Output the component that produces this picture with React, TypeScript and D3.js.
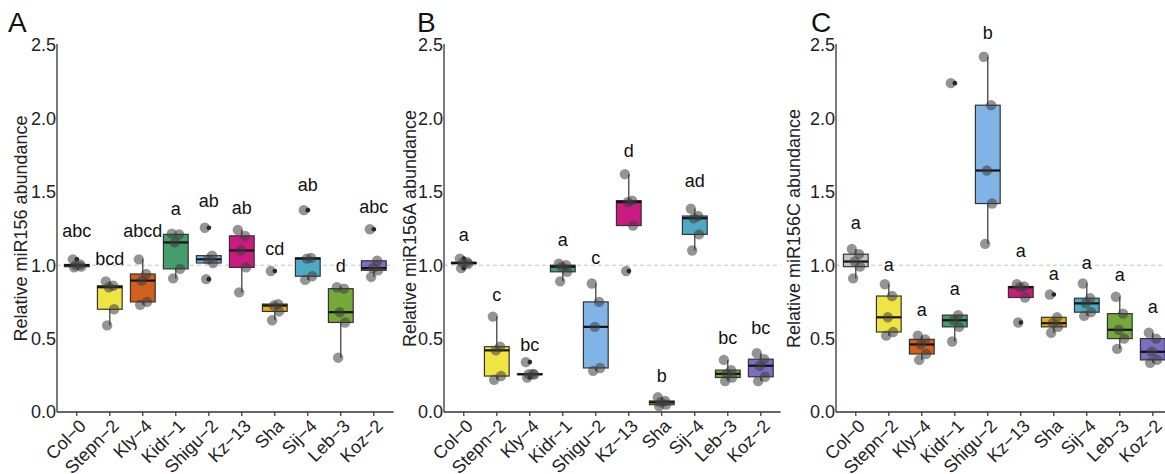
import React from "react";
import * as d3 from "d3";

// Accessions in plotting order
const genotypes = ["Col-0", "Stepn-2", "Kly-4", "Kidr-1", "Shigu-2", "Kz-13", "Sha", "Sij-4", "Leb-3", "Koz-2"];
const tickLabels = ["Col−0", "Stepn−2", "Kly−4", "Kidr−1", "Shigu−2", "Kz−13", "Sha", "Sij−4", "Leb−3", "Koz−2"];
const genotypeColors = ["#c4c4c4", "#f0e443", "#d0601c", "#469d6c", "#80b4e6", "#cc1b80", "#e3ad12", "#4eaac2", "#76a83a", "#7e6dc0"];

const yTicks = [0, 0.5, 1.0, 1.5, 2.0, 2.5];

// Relative abundance, five replicates per accession
const miR156 = [
  [1.04, 1.005, 1.0, 0.99, 0.985],
  [0.89, 0.86, 0.85, 0.70, 0.59],
  [1.04, 0.94, 0.895, 0.75, 0.73],
  [1.215, 1.21, 1.155, 0.975, 0.91],
  [1.255, 1.065, 1.04, 1.015, 0.905],
  [1.24, 1.20, 1.10, 0.985, 0.815],
  [0.96, 0.735, 0.725, 0.685, 0.625],
  [1.375, 1.05, 1.045, 0.925, 0.90],
  [0.85, 0.84, 0.68, 0.61, 0.37],
  [1.245, 1.03, 0.98, 0.965, 0.92],
];
const miR156A = [
  [1.045, 1.02, 1.015, 1.01, 0.98],
  [0.65, 0.445, 0.42, 0.245, 0.22],
  [0.34, 0.26, 0.257, 0.255, 0.235],
  [1.01, 1.0, 0.99, 0.955, 0.89],
  [0.875, 0.75, 0.58, 0.30, 0.28],
  [1.62, 1.44, 1.43, 1.27, 0.96],
  [0.10, 0.075, 0.066, 0.05, 0.04],
  [1.385, 1.335, 1.32, 1.21, 1.10],
  [0.355, 0.285, 0.26, 0.235, 0.21],
  [0.40, 0.36, 0.315, 0.24, 0.21],
];
const miR156C = [
  [1.11, 1.075, 1.025, 0.99, 0.91],
  [0.87, 0.79, 0.645, 0.545, 0.52],
  [0.52, 0.495, 0.46, 0.395, 0.355],
  [2.24, 0.66, 0.625, 0.58, 0.48],
  [2.42, 2.09, 1.645, 1.42, 1.145],
  [0.87, 0.855, 0.85, 0.78, 0.61],
  [0.80, 0.645, 0.605, 0.58, 0.54],
  [0.875, 0.775, 0.74, 0.68, 0.655],
  [0.785, 0.67, 0.56, 0.50, 0.43],
  [0.54, 0.50, 0.41, 0.355, 0.335],
];

// Significance groups and the height each label sits at
const lettersA = ["abc", "bcd", "abcd", "a", "ab", "ab", "cd", "ab", "d", "abc"];
const letterYA = [1.228, 1.04, 1.228, 1.381, 1.433, 1.387, 1.108, 1.54, 0.99, 1.394];
const lettersB = ["a", "c", "bc", "a", "c", "d", "b", "ad", "bc", "bc"];
const letterYB = [1.199, 0.792, 0.45, 1.165, 1.042, 1.773, 0.24, 1.569, 0.502, 0.57];
const lettersC = ["a", "a", "a", "a", "b", "a", "a", "a", "a", "a"];
const letterYC = [1.28, 0.995, 0.69, 0.836, 2.58, 1.092, 0.938, 1.013, 0.926, 0.713];

// Fixed horizontal spread of replicate dots, as a fraction of the category step
const jitterPattern = [-0.12, 0.1, -0.03, 0.13, -0.08];

const FONT = "Arial, 'Liberation Sans', Helvetica, sans-serif";
const W = 1165;
const H = 474;
const PLOT_TOP = 45;
const PLOT_BOTTOM = 412;
const STEP = 33;

const panels = [
  { tag: "A", title: "Relative miR156 abundance", values: miR156, letters: lettersA, letterY: letterYA, axisX: 57, titleX: 27, tagX: 8 },
  { tag: "B", title: "Relative miR156A abundance", values: miR156A, letters: lettersB, letterY: letterYB, axisX: 444, titleX: 416, tagX: 417 },
  { tag: "C", title: "Relative miR156C abundance", values: miR156C, letters: lettersC, letterY: letterYC, axisX: 836, titleX: 800, tagX: 811 },
];

function boxStats(v: number[]) {
  const s = [...v].sort(d3.ascending);
  const q1 = d3.quantileSorted(s, 0.25) as number;
  const med = d3.quantileSorted(s, 0.5) as number;
  const q3 = d3.quantileSorted(s, 0.75) as number;
  const iqr = q3 - q1;
  const lf = q1 - 1.5 * iqr;
  const uf = q3 + 1.5 * iqr;
  const inside = s.filter((d) => d >= lf && d <= uf);
  return {
    q1,
    med,
    q3,
    lo: d3.min(inside) as number,
    hi: d3.max(inside) as number,
    out: s.filter((d) => d < lf || d > uf),
  };
}

const y = d3.scaleLinear().domain([0, 2.5]).range([PLOT_BOTTOM, PLOT_TOP]);

function Panel({ p }: { p: (typeof panels)[number] }) {
  const x = d3
    .scalePoint<string>()
    .domain(genotypes)
    .range([p.axisX, p.axisX + STEP * (genotypes.length - 1 + 1.2)])
    .padding(0.6);
  const step = x.step();
  const half = step * 0.375;
  const xEnd = p.axisX + STEP * (genotypes.length - 1 + 1.2);
  const midY = (PLOT_TOP + PLOT_BOTTOM) / 2;

  return (
    <g>
      <text x={p.tagX} y={32} fontSize={28} fontFamily={FONT} fill="#111">
        {p.tag}
      </text>
      <text
        transform={`translate(${p.titleX},${midY}) rotate(-90)`}
        textAnchor="middle"
        fontSize={18}
        fontFamily={FONT}
        fill="#222"
      >
        {p.title}
      </text>

      {/* reference level */}
      <line x1={p.axisX} x2={xEnd} y1={y(1)} y2={y(1)} stroke="#c4c4c4" strokeWidth={1} strokeDasharray="4 3" />

      {/* axes */}
      <line x1={p.axisX} x2={p.axisX} y1={PLOT_TOP - 1} y2={PLOT_BOTTOM} stroke="#333" strokeWidth={1.3} />
      <line x1={p.axisX} x2={xEnd} y1={PLOT_BOTTOM} y2={PLOT_BOTTOM} stroke="#333" strokeWidth={1.3} />
      {yTicks.map((t) => (
        <text
          key={t}
          x={p.axisX - 1}
          y={y(t)}
          dy="0.36em"
          textAnchor="end"
          fontSize={18}
          fontFamily={FONT}
          fill="#222"
        >
          {d3.format(".1f")(t)}
        </text>
      ))}
      {genotypes.map((g, i) => (
        <g key={g}>
          <line x1={x(g)} x2={x(g)} y1={PLOT_BOTTOM} y2={PLOT_BOTTOM + 4} stroke="#333" strokeWidth={1.2} />
          <text
            transform={`translate(${(x(g) as number) + 1},${PLOT_BOTTOM + 6}) rotate(-45)`}
            textAnchor="end"
            dy="0.72em"
            fontSize={18}
            fontFamily={FONT}
            fill="#222"
          >
            {tickLabels[i]}
          </text>
        </g>
      ))}

      {/* boxes */}
      {genotypes.map((g, i) => {
        const cx = x(g) as number;
        const st = boxStats(p.values[i]);
        return (
          <g key={g}>
            <line x1={cx} x2={cx} y1={y(st.hi)} y2={y(st.q3)} stroke="#333" strokeWidth={1.2} />
            <line x1={cx} x2={cx} y1={y(st.q1)} y2={y(st.lo)} stroke="#333" strokeWidth={1.2} />
            <rect
              x={cx - half}
              y={y(st.q3)}
              width={half * 2}
              height={Math.max(y(st.q1) - y(st.q3), 0.5)}
              fill={genotypeColors[i]}
              stroke="#333"
              strokeWidth={1.2}
            />
            <line x1={cx - half} x2={cx + half} y1={y(st.med)} y2={y(st.med)} stroke="#111" strokeWidth={2.2} />
            {st.out.map((o, k) => (
              <circle key={k} cx={cx} cy={y(o)} r={2.3} fill="#111" />
            ))}
          </g>
        );
      })}

      {/* replicate dots */}
      {genotypes.map((g, i) =>
        p.values[i].map((v, k) => (
          <circle
            key={`${g}-${k}`}
            cx={(x(g) as number) + jitterPattern[k % jitterPattern.length] * step}
            cy={y(v)}
            r={5.2}
            fill="#3c3c3c"
            fillOpacity={0.55}
          />
        ))
      )}

      {/* group letters */}
      {genotypes.map((g, i) => (
        <text
          key={g}
          x={x(g)}
          y={y(p.letterY[i])}
          dy="0.3em"
          textAnchor="middle"
          fontSize={18}
          fontFamily={FONT}
          fill="#111"
        >
          {p.letters[i]}
        </text>
      ))}
    </g>
  );
}

export default function App() {
  return (
    <svg
      width={W}
      height={H}
      viewBox={`0 0 ${W} ${H}`}
      style={{ position: "absolute", left: 0, top: 0, background: "#fff" }}
    >
      {panels.map((p) => (
        <Panel key={p.tag} p={p} />
      ))}
    </svg>
  );
}
